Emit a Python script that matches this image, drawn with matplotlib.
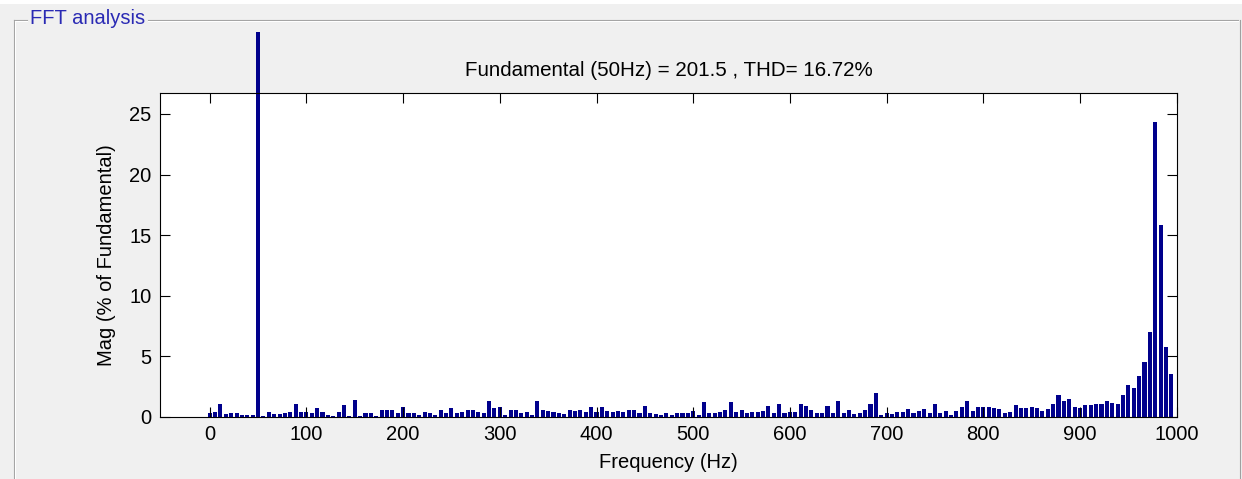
import numpy as np
import matplotlib
matplotlib.use("Agg")
import matplotlib.pyplot as plt
from matplotlib.lines import Line2D
from matplotlib.patches import Rectangle
from matplotlib.transforms import Bbox, TransformedBbox

# FFT of a 9-cycle window at 50 Hz -> bins every 50/9 Hz
fundamental_hz = 50
n_cycles = 9
bin_step = fundamental_hz / n_cycles

# magnitude in % of fundamental, one value per bin (bin 9 = fundamental)
mag = [
    0.35, 0.4, 1.1, 0.25, 0.3, 0.3, 0.15, 0.2, 0.15, 100,
    0.1, 0.45, 0.25, 0.25, 0.3, 0.4, 1.1, 0.45, 0.45, 0.3,
    0.75, 0.4, 0.2, 0.1, 0.45, 0.95, 0.1, 1.4, 0.1, 0.3,
    0.35, 0.05, 0.6, 0.6, 0.55, 0.35, 0.8, 0.35, 0.3, 0.15,
    0.4, 0.3, 0.2, 0.6, 0.3, 0.75, 0.3, 0.4, 0.55, 0.55,
    0.4, 0.3, 1.3, 0.75, 0.85, 0.2, 0.55, 0.6, 0.35, 0.45,
    0.2, 1.3, 0.55, 0.5, 0.4, 0.35, 0.25, 0.55, 0.5, 0.55,
    0.45, 0.85, 0.45, 0.85, 0.5, 0.4, 0.5, 0.45, 0.55, 0.6,
    0.35, 0.9, 0.35, 0.25, 0.15, 0.35, 0.15, 0.35, 0.35, 0.35,
    0.5, 0.2, 1.2, 0.3, 0.3, 0.4, 0.6, 1.2, 0.45, 0.6,
    0.35, 0.45, 0.45, 0.5, 0.9, 0.3, 1.1, 0.35, 0.45, 0.45,
    1.1, 0.9, 0.6, 0.3, 0.35, 0.9, 0.3, 1.3, 0.35, 0.6,
    0.25, 0.35, 0.55, 1.1, 2.0, 0.2, 0.3, 0.25, 0.4, 0.45,
    0.63, 0.36, 0.52, 0.63, 0.36, 1.1, 0.36, 0.52, 0.2, 0.52,
    0.85, 1.29, 0.52, 0.85, 0.85, 0.85, 0.77, 0.63, 0.36, 0.44,
    0.96, 0.77, 0.77, 0.85, 0.77, 0.52, 0.63, 1.1, 1.84, 1.29,
    1.5, 0.85, 0.77, 0.96, 0.96, 1.1, 1.1, 1.29, 1.18, 1.1,
    1.84, 2.68, 2.36, 3.42, 4.52, 6.99, 24.3, 15.8, 5.78, 3.56,
]
freq = np.arange(len(mag)) * bin_step

title_text = "Fundamental (50Hz) = 201.5 , THD= 16.72%"
panel_title = "FFT analysis"
x_ticks = list(range(0, 1001, 100))
y_ticks = [0, 5, 10, 15, 20, 25]

W, H = 1242, 479
plt.rcParams["font.family"] = ["Liberation Sans", "DejaVu Sans"]
fig = plt.figure(figsize=(W / 100, H / 100), dpi=100, facecolor="#f0f0f0")


def fx(px):
    return px / W


def fy(py):
    return 1 - py / H


# white strip at the very top (cut-off page above the screenshot)
fig.patches.append(Rectangle((0, fy(4)), 1, 1 - fy(4), transform=fig.transFigure,
                             facecolor="white", edgecolor="none"))

# group box frame
gray = "#a0a0a0"
for xs, ys in [([13.5, 27], [19.5, 19.5]), ([148, 1238], [19.5, 19.5]),
               ([13.5, 13.5], [19.5, 479]), ([1239.5, 1239.5], [19.5, 479])]:
    fig.add_artist(Line2D([fx(x) for x in xs], [fy(y) for y in ys],
                          transform=fig.transFigure, color=gray, lw=0.8))
for xs, ys in [([14.5, 27], [20.5, 20.5]), ([148, 1238], [20.5, 20.5]),
               ([14.5, 14.5], [20.5, 479])]:
    fig.add_artist(Line2D([fx(x) for x in xs], [fy(y) for y in ys],
                          transform=fig.transFigure, color="white", lw=0.8))
fig.text(fx(30), fy(18.5), panel_title, color="#2a2ab4", fontsize=14.5,
         ha="left", va="center")

ax = fig.add_axes([fx(160), fy(417), fx(1177) - fx(160), fy(93) - fy(417)])
bars = ax.bar(freq, mag, width=bin_step * 0.76, color="#00008c", edgecolor="none")

# the fundamental bar runs out of the axes up to the panel
clip = TransformedBbox(Bbox([[fx(160), 0], [fx(1177), fy(32)]]), fig.transFigure)
i_fund = int(np.argmax(mag))
bars[i_fund].set_clip_on(True)
bars[i_fund].set_clip_box(clip)

harmonics = [m for i, m in enumerate(mag) if i != i_fund]
ax.set_xlim(-51.4, 1000.3)
ax.set_ylim(0, max(harmonics) * 1.1)
ax.set_xticks(x_ticks)
ax.set_yticks(y_ticks)
ax.tick_params(direction="in", length=7, width=0.8, top=True, right=True,
               labelsize=14.5, pad=6)
for s in ax.spines.values():
    s.set_linewidth(0.8)
ax.set_xlabel("Frequency (Hz)", fontsize=14.5, labelpad=6)
ax.set_ylabel("Mag (% of Fundamental)", fontsize=14.5, labelpad=10)
ax.set_title(title_text, fontsize=14.8, pad=12)

fig.savefig("out.png", dpi=100, facecolor=fig.get_facecolor())
